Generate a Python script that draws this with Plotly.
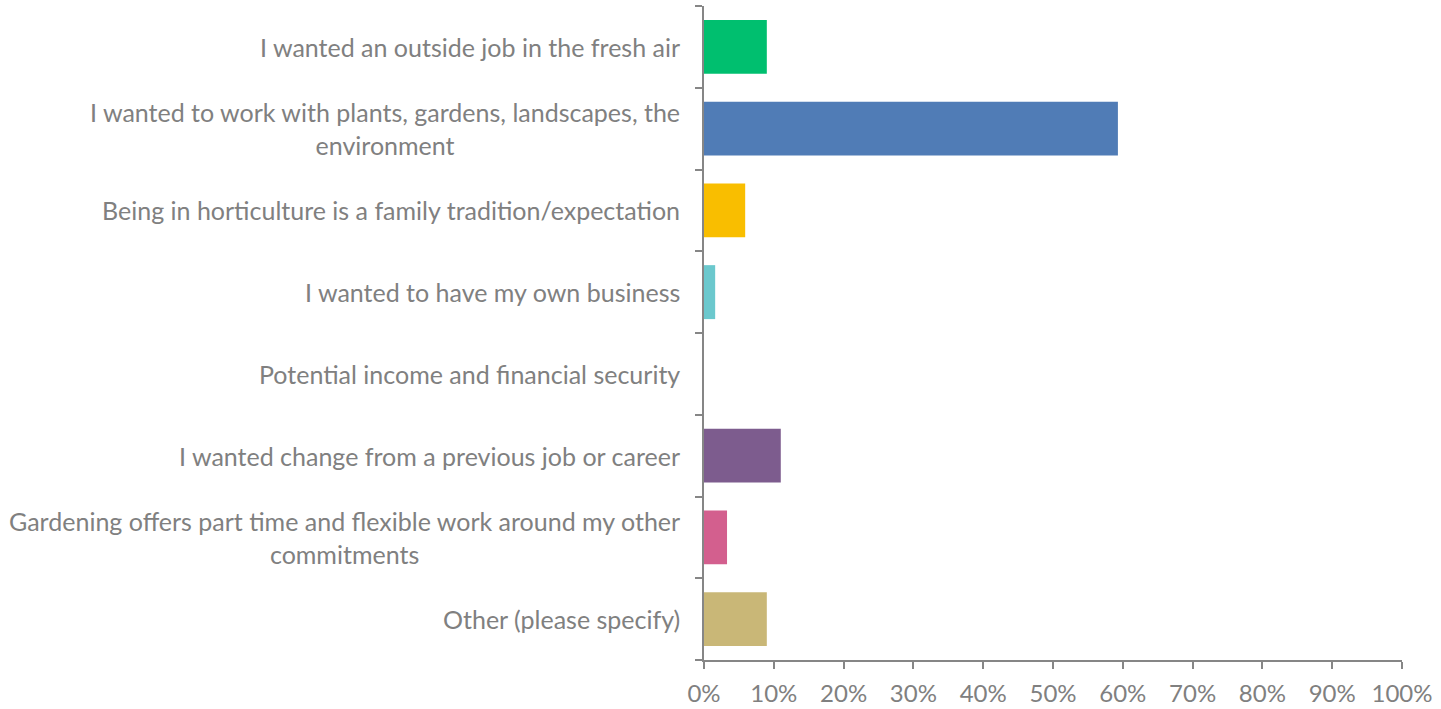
import plotly.graph_objects as go

categories = [
    "I wanted an outside job in the fresh air",
    "I wanted to work with plants, gardens, landscapes, the<br>environment",
    "Being in horticulture is a family tradition/expectation",
    "I wanted to have my own business",
    "Potential income and financial security",
    "I wanted change from a previous job or career",
    "Gardening offers part time and flexible work around my other<br>commitments",
    "Other (please specify)",
]
values = [0.090, 0.593, 0.059, 0.016, 0.0, 0.110, 0.033, 0.090]
colors = ["#00BF6F", "#507CB6", "#F9BE00", "#6BC8CD", "#FF8B4F", "#7D5C8E", "#D35F8E", "#C9B777"]

GRAY = "#808080"
AXIS = "#868686"
FONT = "Lato"
FS = 25

fig = go.Figure(go.Bar(
    x=values, y=list(range(len(categories))), orientation="h",
    marker=dict(color=colors, line=dict(width=0)),
    hoverinfo="skip",
))

annotations = []
for i, cat in enumerate(categories):
    annotations.append(dict(
        x=0, xref="paper", y=i, yref="y",
        text=cat, showarrow=False,
        xanchor="right", align="center", xshift=-22,
        font=dict(family=FONT, size=FS, color=GRAY),
    ))

fig.update_layout(
    annotations=annotations,
    width=1441, height=709,
    margin=dict(l=704, r=39, t=6, b=49),
    paper_bgcolor="white", plot_bgcolor="white",
    bargap=0.34,
    showlegend=False,
    font=dict(family=FONT, size=FS, color=GRAY),
    xaxis=dict(
        range=[0, 1], dtick=0.1, tickformat=".0%",
        showgrid=False, zeroline=False, automargin=False,
        showline=True, linecolor=AXIS, linewidth=2,
        ticks="outside", ticklen=7, tickwidth=2, tickcolor=AXIS,
        ticklabelstandoff=4,
        tickfont=dict(family=FONT, size=24, color=GRAY),
    ),
    yaxis=dict(
        range=[len(categories) - 0.5, -0.5],
        tickmode="array", tickvals=[i + 0.5 for i in range(-1, len(categories))],
        ticktext=[""] * (len(categories) + 1),
        showgrid=False, zeroline=False, automargin=False,
        showline=True, linecolor=AXIS, linewidth=2,
        ticks="outside", ticklen=7, tickwidth=2, tickcolor=AXIS,
    ),
)

fig.write_html("out.html", config={"displayModeBar": False},
               post_script="document.body.style.margin='0';")
